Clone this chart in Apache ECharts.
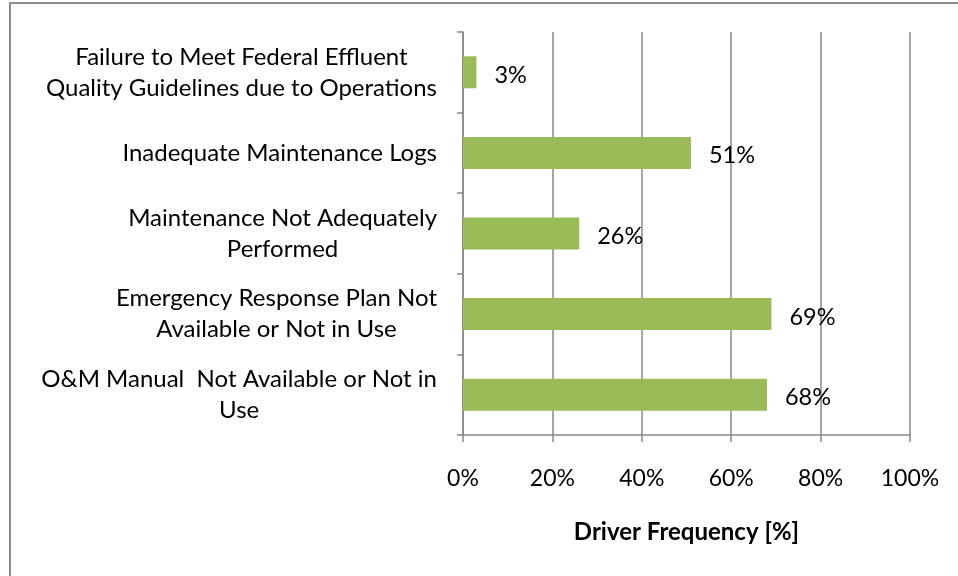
<!DOCTYPE html>
<html><head><meta charset="utf-8">
<script src="https://cdn.jsdelivr.net/npm/echarts@6/dist/echarts.min.js"></script>
<style>html,body{margin:0;padding:0;background:#fff}#c{width:958px;height:576px}</style>
</head><body><div id="c"></div>
<script>
const categories = [
  "Failure to Meet Federal Effluent\nQuality Guidelines due to Operations",
  "Inadequate Maintenance Logs",
  "Maintenance Not Adequately\nPerformed",
  "Emergency Response Plan Not\nAvailable or Not in Use",
  "O&M Manual  Not Available or Not in\nUse"
];
const values = [3, 51, 26, 69, 68];
const xTicks = [0, 20, 40, 60, 80, 100];
const FONT = 'Lato';
const chart = echarts.init(document.getElementById('c'));
chart.setOption({
  animation: false,
  textStyle: { fontFamily: FONT },
  graphic: [{ type: 'rect', shape: { x: 10, y: 3, width: 1000, height: 700 }, style: { fill: 'none', stroke: '#8c8c8c', lineWidth: 2 }, silent: true }],
  grid: { left: 463, right: 48, top: 32, bottom: 141, containLabel: false },
  xAxis: {
    type: 'value', min: 0, max: 100, interval: 20,
    axisLine: { show: true, lineStyle: { color: '#888', width: 1.5 } },
    axisTick: { show: true, length: 7, lineStyle: { color: '#888', width: 1.5 } },
    splitLine: { show: true, lineStyle: { color: '#888', width: 1.5 } },
    axisLabel: { margin: 32, fontSize: 23, color: '#000', fontFamily: FONT, formatter: v => xTicks.includes(v) ? v + '%' : '' },
    name: 'Driver Frequency [%]', nameLocation: 'middle', nameGap: 85,
    nameTextStyle: { fontSize: 24, fontWeight: 'bold', color: '#000', fontFamily: FONT }
  },
  yAxis: {
    type: 'category', data: categories, inverse: true,
    axisLine: { show: true, lineStyle: { color: '#888', width: 1.5 } },
    axisTick: { show: true, length: 6, lineStyle: { color: '#888', width: 1.5 } },
    axisLabel: {
      margin: 26, fontSize: 24, color: '#000', fontFamily: FONT, lineHeight: 31,
      formatter: v => v.split('\n').map(s => '{c|' + s + '}').join('\n'),
      rich: { c: { align: 'center', fontSize: 24, lineHeight: 31, fontFamily: FONT, color: '#000' } }
    }
  },
  series: [{
    type: 'bar', data: values, barWidth: 32,
    itemStyle: { color: '#9BBB59' },
    label: { show: true, position: 'right', distance: 17, offset: [1, 3], formatter: p => p.value + '%', fontSize: 23.5, color: '#000', fontFamily: FONT }
  }]
});
</script></body></html>
